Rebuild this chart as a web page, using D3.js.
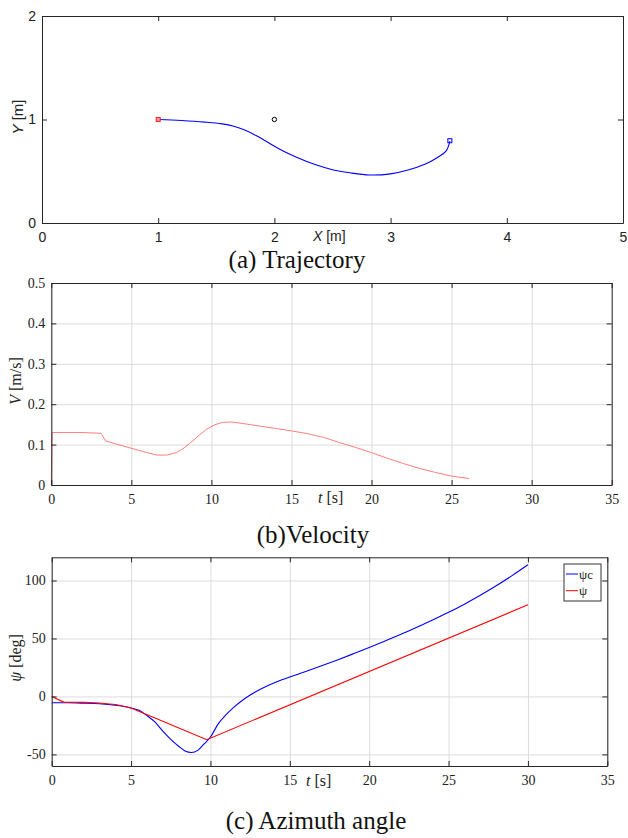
<!DOCTYPE html>
<html>
<head>
<meta charset="utf-8">
<script src="https://cdn.jsdelivr.net/npm/d3@7"></script>
<style>
  body { margin: 0; background: #fff; }
</style>
</head>
<body>
<div id="chart"></div>
<script>
// ---- data ----
// (a) trajectory
const trajX = [1.0, 1.2, 1.4, 1.55, 1.65, 1.75, 1.85, 1.95, 2.05, 2.2, 2.35, 2.5, 2.65, 2.82, 3.0, 3.15, 3.3, 3.4, 3.48, 3.51];
const trajY = [1.0, 0.99, 0.975, 0.958, 0.935, 0.895, 0.84, 0.775, 0.71, 0.63, 0.565, 0.515, 0.485, 0.464, 0.475, 0.512, 0.57, 0.63, 0.70, 0.79];
const pointNames = ["start", "waypoint", "goal"];
const pointX = [1.0, 2.0, 3.51];
const pointY = [1.0, 1.0, 0.795];

// (b) velocity
const velT = [0, 0.05, 1.8, 3.1, 3.4, 4, 5, 6, 6.6, 7.2, 7.8, 8.3, 8.7, 9.2, 9.7, 10.2, 10.7, 11.3, 12, 13, 14, 15, 16, 17, 18, 19, 20, 21, 22, 23, 24, 25, 26.1];
const velV = [0, 0.13, 0.13, 0.128, 0.109, 0.102, 0.091, 0.08, 0.074, 0.074, 0.08, 0.092, 0.105, 0.122, 0.138, 0.149, 0.155, 0.156, 0.152, 0.146, 0.14, 0.134, 0.127, 0.118, 0.105, 0.093, 0.08, 0.066, 0.053, 0.041, 0.031, 0.022, 0.016];

// (c) azimuth angle
const psiCT = [0, 1, 2, 3, 4, 4.5, 5, 5.5, 6, 6.5, 7, 7.5, 8, 8.4, 8.8, 9.2, 9.6, 10, 10.5, 11, 11.5, 12, 12.5, 13, 13.5, 14, 14.5, 15, 16, 17, 18, 19, 20, 21, 22, 23, 24, 25, 26, 27, 28, 29, 30];
const psiC = [-5.5, -5.5, -5.8, -6.3, -7.5, -8.5, -10, -12, -16.5, -22, -30, -37, -43, -47, -48.3, -46.5, -41, -35, -23.5, -15.5, -9, -3.5, 1.2, 5.2, 8.6, 11.6, 14.3, 16.8, 21.5, 26.4, 31.5, 36.8, 42.2, 47.8, 53.6, 59.7, 66, 72.6, 79.6, 87.2, 95.4, 104.2, 113.6];
const psiT = [0, 0.75, 2, 3, 4, 5, 9.77, 30];
const psi = [0, -4.9, -5.1, -5.6, -7, -10, -37.3, 79];
const legendNames = ["\u03c8c", "\u03c8"];

// ticks
const trajXTicks = [0, 1, 2, 3, 4, 5];
const trajYTicks = [0, 1, 2];
const timeTicks = [0, 5, 10, 15, 20, 25, 30, 35];
const velTicks = [0, 0.1, 0.2, 0.3, 0.4, 0.5];
const psiTicks = [-50, 0, 50, 100];

const serif = "'Liberation Serif', 'Times New Roman', serif";
const sans = "'Liberation Sans', Arial, sans-serif";
const frameColor = "#262626";

let svg = d3
  .select("#chart")
  .append("svg")
  .attr("width", 628)
  .attr("height", 838);

// grid lines behind the data
function drawGrid(g, x, y, xTicks, yTicks) {
  let [yb, yt] = y.range();
  let [xl, xr] = x.range();
  g.append("g")
    .attr("transform", `translate(0,${yb})`)
    .call(d3.axisBottom(x).tickValues(xTicks).tickSize(-(yb - yt)).tickFormat(""))
    .call((a) => a.select(".domain").remove())
    .selectAll("line")
    .attr("stroke", "#dcdcdc");
  g.append("g")
    .attr("transform", `translate(${xl},0)`)
    .call(d3.axisLeft(y).tickValues(yTicks).tickSize(-(xr - xl)).tickFormat(""))
    .call((a) => a.select(".domain").remove())
    .selectAll("line")
    .attr("stroke", "#dcdcdc");
}

// box with inward ticks on all four sides, labels on bottom and left
function drawFrame(g, x, y, xTicks, yTicks, font, size, fmtY) {
  let [yb, yt] = y.range();
  let [xl, xr] = x.range();
  let style = (a) => {
    a.attr("font-family", font).attr("font-size", size);
    a.selectAll("line").attr("stroke", frameColor);
    a.select(".domain").attr("stroke", frameColor);
    a.selectAll("text").attr("fill", "#222");
  };
  g.append("g")
    .attr("transform", `translate(0,${yb})`)
    .call(d3.axisBottom(x).tickValues(xTicks).tickSizeInner(-5).tickSizeOuter(0).tickPadding(9).tickFormat((d) => String(d)))
    .call(style);
  g.append("g")
    .attr("transform", `translate(0,${yt})`)
    .call(d3.axisTop(x).tickValues(xTicks).tickSizeInner(-5).tickSizeOuter(0).tickFormat(""))
    .call(style);
  g.append("g")
    .attr("transform", `translate(${xl},0)`)
    .call(d3.axisLeft(y).tickValues(yTicks).tickSizeInner(-5).tickSizeOuter(0).tickPadding(6).tickFormat(fmtY))
    .call(style);
  g.append("g")
    .attr("transform", `translate(${xr},0)`)
    .call(d3.axisRight(y).tickValues(yTicks).tickSizeInner(-5).tickSizeOuter(0).tickFormat(""))
    .call(style);
}

function caption(txt, cx, y) {
  svg
    .append("text")
    .attr("x", cx)
    .attr("y", y)
    .attr("text-anchor", "middle")
    .attr("font-family", serif)
    .attr("font-size", 25)
    .attr("fill", "#111")
    .text(txt);
}

// label made of an italic symbol and a plain unit
function axisLabel(sym, unit, x, y, font, size, rotate, anchor) {
  let t = svg
    .append("text")
    .attr("font-family", font)
    .attr("font-size", size)
    .attr("fill", "#222")
    .attr("text-anchor", anchor)
    .attr("transform", rotate ? `translate(${x},${y}) rotate(-90)` : `translate(${x},${y})`);
  t.append("tspan").attr("font-style", "italic").text(sym);
  t.append("tspan").text(" " + unit);
}

// ---------- (a) Trajectory ----------
let xa = d3.scaleLinear().domain([0, 5]).range([42, 623]);
let ya = d3.scaleLinear().domain([0, 2]).range([223, 16]);
let ga = svg.append("g");

ga.append("path")
  .datum(d3.range(trajX.length))
  .attr("fill", "none")
  .attr("stroke", "#0000ff")
  .attr("stroke-width", 1.1)
  .attr("d", d3.line().curve(d3.curveCatmullRom).x((i) => xa(trajX[i])).y((i) => ya(trajY[i])));

// start marker
ga.append("rect")
  .attr("x", xa(pointX[0]) - 2)
  .attr("y", ya(pointY[0]) - 2)
  .attr("width", 4)
  .attr("height", 4)
  .attr("fill", "#ff9a9a")
  .attr("stroke", "#ff2020")
  .attr("stroke-width", 1);
// waypoint
ga.append("circle")
  .attr("cx", xa(pointX[1]))
  .attr("cy", ya(pointY[1]))
  .attr("r", 2.2)
  .attr("fill", "none")
  .attr("stroke", "#000")
  .attr("stroke-width", 1);
// goal marker
ga.append("rect")
  .attr("x", xa(pointX[2]) - 2)
  .attr("y", ya(pointY[2]) - 2)
  .attr("width", 4)
  .attr("height", 4)
  .attr("fill", "none")
  .attr("stroke", "#0000ff")
  .attr("stroke-width", 1);

drawFrame(ga, xa, ya, trajXTicks, trajYTicks, sans, 14, (d) => String(d));
axisLabel("Y", "[m]", 23, 117, sans, 15, true, "middle");
axisLabel("X", "[m]", 313, 241, sans, 14, false, "start");
caption("(a) Trajectory", 297, 268);

// ---------- (b) Velocity ----------
let xb = d3.scaleLinear().domain([0, 35]).range([51.3, 611.7]);
let yb = d3.scaleLinear().domain([0, 0.5]).range([485, 283]);
let gb = svg.append("g");
drawGrid(gb, xb, yb, timeTicks, velTicks);

gb.append("path")
  .datum(d3.range(velT.length))
  .attr("fill", "none")
  .attr("stroke", "#ff6e6e")
  .attr("stroke-width", 0.9)
  .attr("d", d3.line().x((i) => xb(velT[i])).y((i) => yb(velV[i])));

drawFrame(gb, xb, yb, timeTicks, velTicks, serif, 14, (d) => (d === 0 ? "0" : d3.format(".1f")(d)));
axisLabel("V", "[m/s]", 21, 381, serif, 16, true, "middle");
axisLabel("t", "[s]", 318, 503, serif, 16, false, "start");
caption("(b)Velocity", 313, 543);

// ---------- (c) Azimuth angle ----------
let xc = d3.scaleLinear().domain([0, 35]).range([51.7, 607.3]);
let yc = d3.scaleLinear().domain([-60, 120]).range([766, 557.3]);
let gc = svg.append("g");
drawGrid(gc, xc, yc, timeTicks, psiTicks);

let seriesC = [
  { name: legendNames[0], t: psiCT, v: psiC, color: "#0000ff" },
  { name: legendNames[1], t: psiT, v: psi, color: "#ff0000" },
];

gc.selectAll(".psi")
  .data(seriesC)
  .enter()
  .append("path")
  .attr("class", "psi")
  .attr("fill", "none")
  .attr("stroke", (s) => s.color)
  .attr("stroke-width", 1.1)
  .attr("d", (s) =>
    d3
      .line()
      .curve(s.t.length > 10 ? d3.curveMonotoneX : d3.curveLinear)
      .x((i) => xc(s.t[i]))
      .y((i) => yc(s.v[i]))(d3.range(s.t.length))
  );

drawFrame(gc, xc, yc, timeTicks, psiTicks, serif, 14, (d) => String(d));
axisLabel("\u03c8", "[deg]", 21, 658, serif, 16, true, "middle");
axisLabel("t", "[s]", 306, 786, serif, 16, false, "start");

// legend
let lg = svg.append("g").attr("transform", "translate(564,564)");
lg.append("rect")
  .attr("width", 37)
  .attr("height", 37)
  .attr("fill", "#fff")
  .attr("stroke", "#333")
  .attr("stroke-width", 1);
let items = lg
  .selectAll(".item")
  .data(seriesC)
  .enter()
  .append("g")
  .attr("class", "item")
  .attr("transform", (d, i) => `translate(0,${10 + i * 16.7})`);
items
  .append("line")
  .attr("x1", 2)
  .attr("x2", 14)
  .attr("stroke", (d) => d.color)
  .attr("stroke-width", 1);
items
  .append("text")
  .attr("x", 15)
  .attr("y", 4.5)
  .attr("font-family", serif)
  .attr("font-size", 13)
  .attr("fill", "#222")
  .text((d) => d.name);

caption("(c) Azimuth angle", 316, 829);
</script>
</body>
</html>
